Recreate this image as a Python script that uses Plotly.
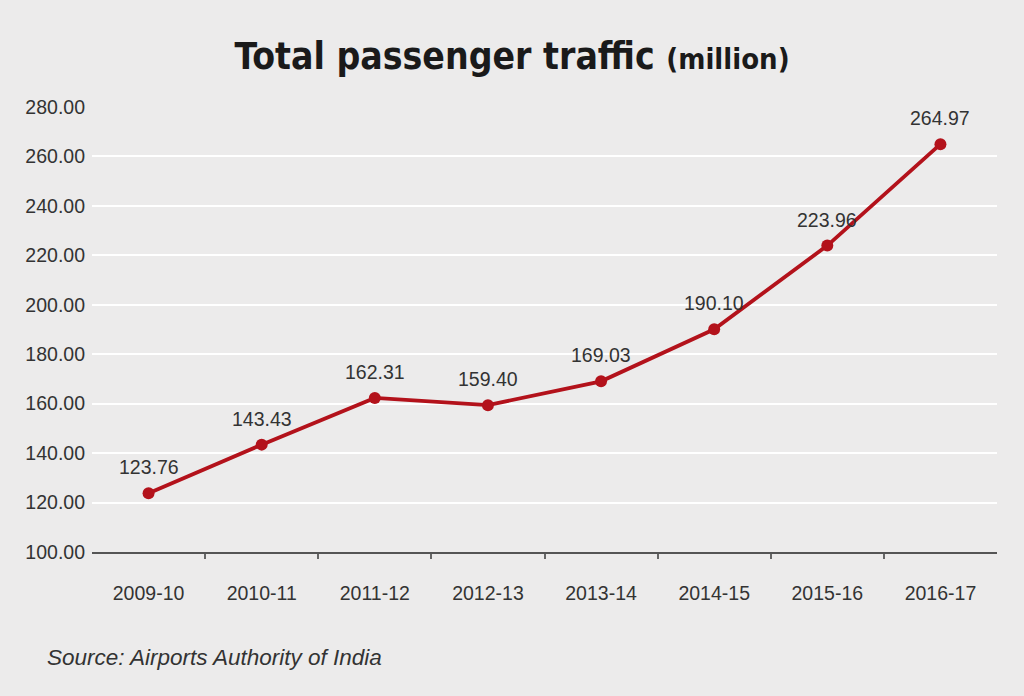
import plotly.graph_objects as go

years = ["2009-10", "2010-11", "2011-12", "2012-13", "2013-14", "2014-15", "2015-16", "2016-17"]
traffic = [123.76, 143.43, 162.31, 159.40, 169.03, 190.10, 223.96, 264.97]
y_ticks = [100, 120, 140, 160, 180, 200, 220, 240, 260, 280]

SANS = "Liberation Sans, Arial, sans-serif"
COND = "DejaVu Sans Condensed, DejaVu Sans, sans-serif"
BG = "#ecebeb"
RED = "#b3121b"
TXT = "#333333"

L, R, T, B = 92, 27, 107, 144
W, H = 1024, 696
PW, PH = W - L - R, H - T - B

idx = list(range(len(years)))

fig = go.Figure()
fig.add_trace(go.Scatter(
    x=idx, y=traffic,
    mode="lines+markers",
    line=dict(color=RED, width=3.8),
    marker=dict(color=RED, size=12),
    hoverinfo="skip",
))

annotations = [
    dict(x=i, y=v, xref="x", yref="y", text=f"{v:.2f}", showarrow=False,
         yshift=26, xanchor="center", yanchor="middle",
         font=dict(family=SANS, size=19.5, color=TXT))
    for i, v in zip(idx, traffic)
]
annotations.append(dict(
    text="<i>Source: Airports Authority of India</i>",
    x=(45 - L) / PW, y=(H - B - 657) / PH, xref="paper", yref="paper",
    xanchor="left", yanchor="middle", showarrow=False,
    font=dict(family=SANS, size=22.5, color=TXT),
))

fig.update_layout(
    width=W, height=H,
    paper_bgcolor=BG, plot_bgcolor=BG,
    margin=dict(l=L, r=R, t=T, b=B),
    showlegend=False,
    title=dict(
        text="<b>Total passenger traffic <span style='font-size:29px'>(million)</span></b>",
        font=dict(family=COND, size=37, color="#1a1a1a"),
        x=0.5, xanchor="center", xref="container",
        y=1 - 56 / H, yanchor="middle", yref="container",
    ),
    xaxis=dict(
        range=[-0.5, len(years) - 0.5],
        tickvals=idx, ticktext=years,
        ticks="",
        showgrid=False,
        showline=True, linecolor="#555555", linewidth=1.5,
        minor=dict(tickvals=[i + 0.5 for i in idx[:-1]], ticks="outside",
                   ticklen=5, tickcolor="#666666", tickwidth=1.5, showgrid=False),
        ticklabelstandoff=23,
        tickfont=dict(family=SANS, size=19.5, color=TXT),
        zeroline=False,
    ),
    yaxis=dict(
        range=[100, 280],
        tickvals=y_ticks,
        ticktext=[f"{v:.2f}" for v in y_ticks],
        showgrid=True, gridcolor="#ffffff", gridwidth=1.5,
        showline=False, zeroline=False,
        ticks="", ticklabelstandoff=6,
        tickfont=dict(family=SANS, size=19.5, color=TXT),
    ),
    annotations=annotations,
)

fig.write_html("out.html", config={"displayModeBar": False},
               post_script="document.body.style.margin='0';document.body.style.background='%s';" % BG)
